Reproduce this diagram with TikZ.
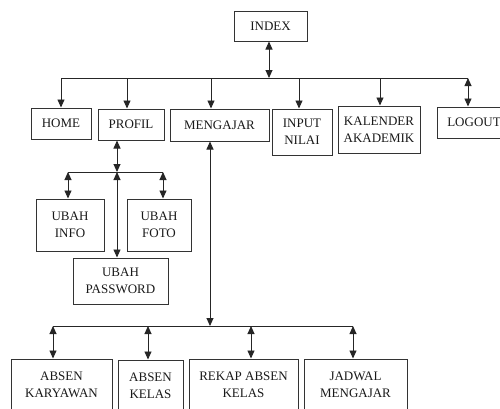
\documentclass[tikz,border=0pt]{standalone}
\usepackage{fontspec}
\setmainfont{Liberation Serif}
\newfontfamily\menufont{Liberation Serif}
\usetikzlibrary{arrows.meta}
\begin{document}
\begin{tikzpicture}[x=1pt,y=-1pt,
  box/.style={draw=black!80, line width=1pt, rectangle, align=center, inner sep=0pt,
              text=black!90, font=\menufont\fontsize{13}{17}\selectfont},
  link/.style={line width=0.9pt, draw=black!85},
  down/.style={-{Triangle[length=8pt,width=7pt]}},
  twoway/.style={{Triangle[length=8pt,width=7pt]}-{Triangle[length=8pt,width=7pt]}}]
\useasboundingbox (0,0) rectangle (500,408);
\clip (0,0) rectangle (500,408);

% top level
\node[box, minimum width=73, minimum height=30] (index) at (270.5,26) {INDEX};

\node[box, minimum width=60, minimum height=31] (home)     at (61,123.5)  {HOME};
\node[box, minimum width=66, minimum height=31] (profil)   at (131,124.5) {PROFIL};
\node[box, minimum width=99, minimum height=32] (mengajar) at (219.5,125) {MENGAJAR};
\node[box, minimum width=60, minimum height=46] (input)    at (302,132)   {INPUT\\NILAI};
\node[box, minimum width=82, minimum height=47] (kalender) at (379,129.5) {KALENDER\\AKADEMIK};
\node[box, minimum width=74, minimum height=31] (logout)   at (474,122.5) {LOGOUT};

% profil sub menu
\node[box, minimum width=68, minimum height=52] (info)     at (70,225)    {UBAH\\INFO};
\node[box, minimum width=64, minimum height=52] (foto)     at (159,225)   {UBAH\\FOTO};
\node[box, minimum width=95, minimum height=46] (password) at (120.5,281) {UBAH\\PASSWORD};

% mengajar sub menu
\node[box, minimum width=101, minimum height=52] (karyawan) at (61.5,385)  {ABSEN\\KARYAWAN};
\node[box, minimum width=65,  minimum height=52] (kelas)    at (150.5,386) {ABSEN\\KELAS};
\node[box, minimum width=109, minimum height=52] (rekap)    at (243.5,385) {REKAP ABSEN\\KELAS};
\node[box, minimum width=103, minimum height=52] (jadwal)   at (355.5,385) {JADWAL\\MENGAJAR};

% main bus
\coordinate (mainMid) at (269,78);
\coordinate (tHome) at (61,78);
\coordinate (tProfil) at (127,78);
\coordinate (tMengajar) at (211,78);
\coordinate (tInput) at (299,78);
\coordinate (tKalender) at (380,78);
\coordinate (tLogout) at (468,78);
\draw[link] (tHome) -- (tLogout);
\draw[link,twoway] (index.south -| mainMid) -- (mainMid);
\draw[link,down] (tHome) -- (tHome |- home.north);
\draw[link,down] (tProfil) -- (tProfil |- profil.north);
\draw[link,down] (tMengajar) -- (tMengajar |- mengajar.north);
\draw[link,down] (tInput) -- (tInput |- input.north);
\draw[link,down] (tKalender) -- (tKalender |- kalender.north);
\draw[link,twoway] (tLogout) -- (tLogout |- logout.north);

% profil bus
\coordinate (pMid) at (117,172);
\coordinate (pInfo) at (68,172);
\coordinate (pFoto) at (163,172);
\draw[link] (pInfo) -- (pFoto);
\draw[link,twoway] (pMid |- profil.south) -- (pMid);
\draw[link,twoway] (pInfo) -- (pInfo |- info.north);
\draw[link,twoway] (pFoto) -- (pFoto |- foto.north);
\draw[link,twoway] (pMid) -- (pMid |- password.north);

% mengajar bus
\coordinate (mMid) at (210,326);
\coordinate (mKaryawan) at (53,326);
\coordinate (mKelas) at (148,326);
\coordinate (mRekap) at (251,326);
\coordinate (mJadwal) at (353,326);
\draw[link] (mKaryawan) -- (mJadwal);
\draw[link,twoway] (mMid |- mengajar.south) -- (mMid);
\draw[link,twoway] (mKaryawan) -- (mKaryawan |- karyawan.north);
\draw[link,twoway] (mKelas) -- (mKelas |- kelas.north);
\draw[link,twoway] (mRekap) -- (mRekap |- rekap.north);
\draw[link,twoway] (mJadwal) -- (mJadwal |- jadwal.north);
\end{tikzpicture}
\end{document}
